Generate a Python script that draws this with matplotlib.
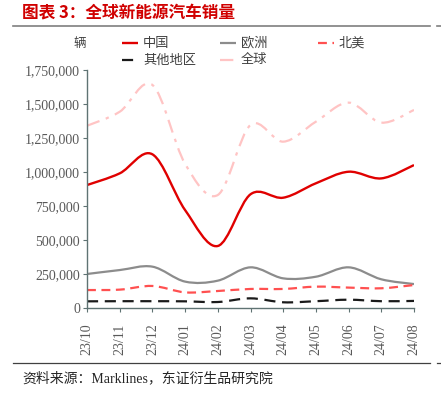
import matplotlib.pyplot as plt
from matplotlib.path import Path
from matplotlib.patches import PathPatch
from matplotlib.lines import Line2D
from matplotlib.ticker import FuncFormatter

plt.rcParams['font.family'] = ['Liberation Serif', 'Noto Sans CJK SC']

months = ['23/10', '23/11', '23/12', '24/01', '24/02', '24/03',
          '24/04', '24/05', '24/06', '24/07', '24/08']
china = [904000, 990000, 1130000, 720000, 456000, 836000,
         811000, 917000, 1002000, 953000, 1051000]
europe = [250000, 279000, 304000, 194000, 201000, 299000,
          218000, 230000, 299000, 211000, 176000]
north_america = [132000, 135000, 162000, 115000, 125000, 140000,
                 140000, 157000, 150000, 145000, 169000]
others = [49000, 50000, 50000, 49000, 44000, 71000,
          42000, 50000, 61000, 50000, 52000]
world = [1340000, 1443000, 1640000, 1060000, 831000, 1346000,
         1223000, 1370000, 1510000, 1363000, 1456000]


def smooth_path(ys):
    # Catmull-Rom style bezier, like Excel's smoothed lines
    xs = list(range(len(ys)))
    n = len(ys)
    verts = [(xs[0], ys[0])]
    codes = [Path.MOVETO]
    for i in range(n - 1):
        a = max(i - 1, 0)
        d = min(i + 2, n - 1)
        c1 = (xs[i] + (xs[i + 1] - xs[a]) / 6, ys[i] + (ys[i + 1] - ys[a]) / 6)
        c2 = (xs[i + 1] - (xs[d] - xs[i]) / 6, ys[i + 1] - (ys[d] - ys[i]) / 6)
        verts += [c1, c2, (xs[i + 1], ys[i + 1])]
        codes += [Path.CURVE4] * 3
    return Path(verts, codes)


series = [
    (world, '全球', dict(color='#FFC4C4', lw=1.6, ls=(0, (6, 3, 1.5, 3)))),
    (europe, '欧洲', dict(color='#8C8C8C', lw=1.6, ls='-')),
    (north_america, '北美', dict(color='#FF5050', lw=1.6, ls=(0, (4, 2.5)))),
    (others, '其他地区', dict(color='#1A1A1A', lw=1.6, ls=(0, (5, 3)))),
    (china, '中国', dict(color='#E00000', lw=1.7, ls='-')),
]

fig = plt.figure(figsize=(4.41, 3.95), dpi=100)
ax = fig.add_axes([87 / 441, 1 - 308 / 395, (414 - 87) / 441, (308 - 70) / 395])

for ys, name, st in series:
    ax.add_patch(PathPatch(smooth_path(ys), facecolor='none', edgecolor=st['color'],
                           lw=st['lw'], linestyle=st['ls'], capstyle='butt'))

ax.set_xlim(0, len(months) - 1)
ax.set_ylim(0, 1750000)
ax.set_yticks(range(0, 1750001, 250000))
ax.yaxis.set_major_formatter(FuncFormatter(lambda v, p: f'{int(v):,}'))
ax.set_xticks(range(len(months)))
ax.set_xticklabels(months, rotation=90)

spine_c = '#5F7373'
for s in ['top', 'right']:
    ax.spines[s].set_visible(False)
for s in ['left', 'bottom']:
    ax.spines[s].set_color(spine_c)
    ax.spines[s].set_linewidth(1.0)
ax.tick_params(axis='both', colors=spine_c, labelcolor='#595959', labelsize=10,
               length=3, width=0.8)
ax.tick_params(axis='x', pad=8)
ax.tick_params(axis='y', pad=2)

# title and rules
fig.text(22 / 441, 1 - 13 / 395, '图表 3：全球新能源汽车销量', color='#D00000',
         fontsize=12, weight='bold', va='center', family=['Noto Sans CJK SC'])
fig.add_artist(Line2D([13 / 441, 430 / 441], [1 - 26 / 395] * 2, color='#7F7F7F', lw=1.2))
fig.add_artist(Line2D([437 / 441, 441 / 441], [1 - 26 / 395] * 2, color='#7F7F7F', lw=1.2))
fig.add_artist(Line2D([13 / 441, 430 / 441], [1 - 363 / 395] * 2, color='#404040', lw=0.9))
fig.add_artist(Line2D([437 / 441, 441 / 441], [1 - 363 / 395] * 2, color='#404040', lw=0.9))
fig.text(22 / 441, 1 - 378 / 395, '资料来源：Marklines，东证衍生品研究院', color='#262626',
         fontsize=10, va='center', family=['Liberation Serif', 'Noto Sans CJK SC'])

# unit and legend
fig.text(86 / 441, 1 - 43 / 395, '辆', fontsize=9, ha='right', va='center',
         color='#404040', family=['Noto Sans CJK SC'])
legend_pos = {'中国': (122, 43), '欧洲': (220, 43), '北美': (318, 43),
              '其他地区': (122, 60), '全球': (220, 60)}
for ys, name, st in series:
    x0, y0 = legend_pos[name]
    fig.add_artist(Line2D([x0 / 441, (x0 + 16) / 441], [1 - y0 / 395] * 2,
                          color=st['color'], lw=st['lw'], ls=st['ls'],
                          dash_capstyle='butt', solid_capstyle='butt'))
    fig.text((x0 + 21) / 441, 1 - y0 / 395, name, fontsize=9.5, va='center',
             color='#404040', family=['Noto Sans CJK SC'])

fig.savefig('out.png', dpi=100)
